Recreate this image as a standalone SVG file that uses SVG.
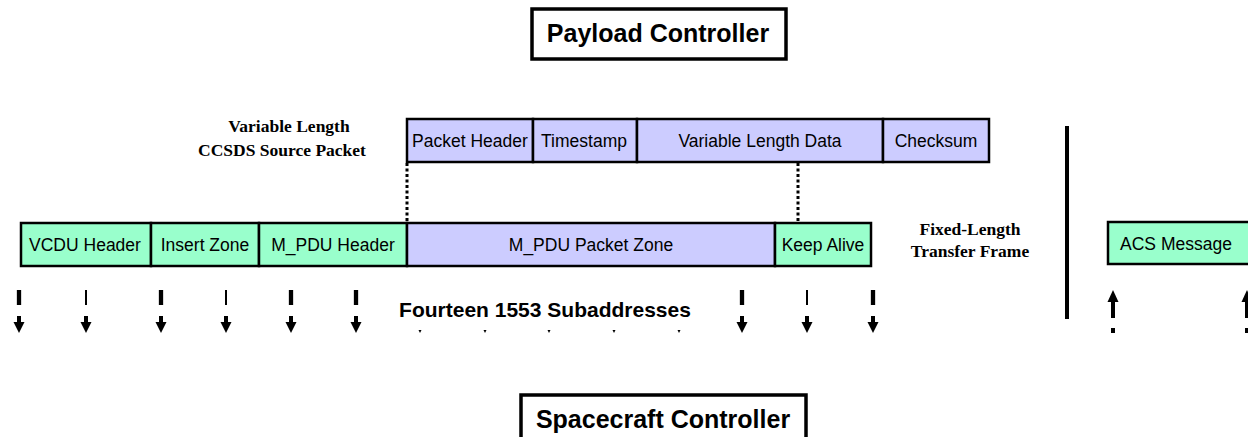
<svg xmlns="http://www.w3.org/2000/svg" width="1248" height="437" viewBox="0 0 1248 437">
<style>
.g{fill:#99FFCC;stroke:#000;stroke-width:2.5}
.p{fill:#CCCCFF;stroke:#000;stroke-width:2.5}
.bt{font-family:"Liberation Sans",Arial,sans-serif;font-size:17.5px;fill:#000;text-anchor:middle}
.ctl{fill:#fff;stroke:#000;stroke-width:3.5}
.ct{font-family:"Liberation Sans",Arial,sans-serif;font-size:25px;font-weight:bold;fill:#000;text-anchor:middle}
.lb{font-family:"Liberation Serif","Times New Roman",serif;font-size:17.5px;font-weight:bold;fill:#000;text-anchor:middle}
.dot{stroke:#000;stroke-width:3;stroke-dasharray:3,2.5;fill:none}
.tk{stroke:#000;stroke-width:4.3}
.tn{stroke:#000;stroke-width:2}
</style>
<defs>
<g id="dn"><line x1="0" y1="316" x2="0" y2="324" stroke="#000" stroke-width="4"/><polygon points="-5.5,322 5.5,322 0,333" fill="#000"/></g>
<g id="up"><polygon points="-5.5,302 5.5,302 0,290" fill="#000"/><line x1="0" y1="301" x2="0" y2="318" stroke="#000" stroke-width="4"/><line x1="0" y1="328" x2="0" y2="333" stroke="#000" stroke-width="4"/></g>
</defs>

<g id="payload-controller">
<rect class="ctl" x="532" y="9" width="254" height="50"/>
<text class="ct" x="658" y="42">Payload Controller</text>
</g>

<g id="spacecraft-controller">
<rect class="ctl" x="521" y="395" width="285" height="60"/>
<text class="ct" x="663" y="428">Spacecraft Controller</text>
</g>

<g id="source-packet-label">
<text class="lb" x="289" y="132">Variable Length</text>
<text class="lb" x="282" y="156">CCSDS Source Packet</text>
</g>

<g id="transfer-frame-label">
<text class="lb" x="970" y="235">Fixed-Length</text>
<text class="lb" x="970" y="257">Transfer Frame</text>
</g>

<g id="source-packet">
<rect class="p" x="407" y="119" width="126" height="43"/>
<text class="bt" x="470" y="147">Packet Header</text>
<rect class="p" x="533" y="119" width="104" height="43"/>
<text class="bt" x="584" y="147">Timestamp</text>
<rect class="p" x="637" y="119" width="246" height="43"/>
<text class="bt" x="760" y="147">Variable Length Data</text>
<rect class="p" x="883" y="119" width="106" height="43"/>
<text class="bt" x="936" y="147">Checksum</text>
</g>

<g id="transfer-frame">
<rect class="g" x="21" y="223" width="130" height="43"/>
<text class="bt" x="85" y="251">VCDU Header</text>
<rect class="g" x="151" y="223" width="108" height="43"/>
<text class="bt" x="205" y="251">Insert Zone</text>
<rect class="g" x="259" y="223" width="148" height="43"/>
<text class="bt" x="333" y="251">M_PDU Header</text>
<rect class="p" x="407" y="223" width="368" height="43"/>
<text class="bt" x="591" y="251">M_PDU Packet Zone</text>
<rect class="g" x="775" y="223" width="96" height="43"/>
<text class="bt" x="823" y="251">Keep Alive</text>
</g>

<g id="acs-message">
<rect class="g" x="1108" y="222" width="142" height="42"/>
<text class="bt" x="1176" y="250">ACS Message</text>
</g>

<g id="connectors">
<line class="dot" x1="407" y1="163" x2="407" y2="223"/>
<line class="dot" x1="798" y1="163" x2="798" y2="223"/>
<line x1="1067" y1="126" x2="1067" y2="319" stroke="#000" stroke-width="4"/>

<g id="subaddress-arrows">
<line class="tk" x1="19" y1="290" x2="19" y2="305"/><use href="#dn" x="19"/>
<line class="tn" x1="86" y1="290" x2="86" y2="305"/><use href="#dn" x="86"/>
<line class="tk" x1="161" y1="290" x2="161" y2="305"/><use href="#dn" x="161"/>
<line class="tn" x1="226" y1="290" x2="226" y2="305"/><use href="#dn" x="226"/>
<line class="tk" x1="291" y1="290" x2="291" y2="305"/><use href="#dn" x="291"/>
<line class="tk" x1="356" y1="290" x2="356" y2="305"/><use href="#dn" x="356"/>
<use href="#dn" x="420"/><use href="#dn" x="485"/><use href="#dn" x="549"/><use href="#dn" x="614"/><use href="#dn" x="679"/>
<line class="tk" x1="742" y1="290" x2="742" y2="305"/><use href="#dn" x="742"/>
<line class="tn" x1="807" y1="290" x2="807" y2="305"/><use href="#dn" x="807"/>
<line class="tk" x1="873" y1="290" x2="873" y2="305"/><use href="#dn" x="873"/>
</g>
<use href="#up" x="1113"/>
<use href="#up" x="1247"/>
</g>

<g id="subaddress-label">
<rect x="394" y="284" width="306" height="46" fill="#fff"/>
<text x="545" y="317" font-family="Liberation Sans,Arial,sans-serif" font-size="21" font-weight="bold" text-anchor="middle" fill="#000">Fourteen 1553 Subaddresses</text>
</g>
</svg>
